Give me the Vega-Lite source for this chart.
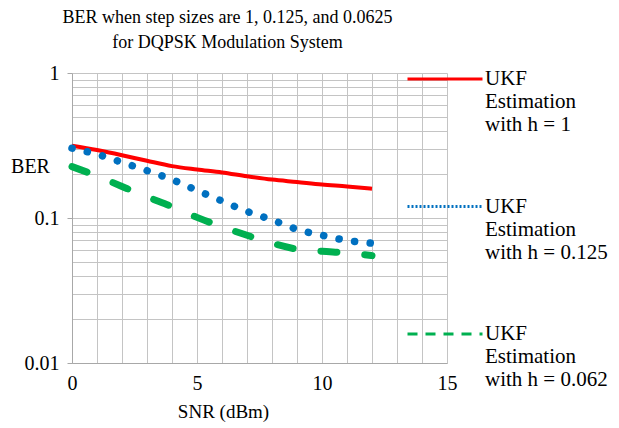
{
  "$schema": "https://vega.github.io/schema/vega-lite/v6.json",
  "width": 375,
  "height": 290,
  "autosize": "none",
  "padding": {"left": 72, "top": 73, "right": 172, "bottom": 65},
  "background": "white",
  "config": {
    "font": "Liberation Serif",
    "view": {"stroke": null},
    "axis": {"labelFont": "Liberation Serif", "titleFont": "Liberation Serif"},
    "legend": {"labelFont": "Liberation Serif", "titleFont": "Liberation Serif"},
    "title": {"font": "Liberation Serif"}
  },
  "title": {
    "text": ["BER when step sizes are 1, 0.125, and 0.0625", "for DQPSK Modulation System"],
    "fontSize": 18, "fontWeight": "normal", "font": "Liberation Serif", "color": "black",
    "lineHeight": 25, "dx": -32, "dy": 22, "offset": 10
  },
  "data": {"values": [
    {"snr": 0, "ber": 0.315, "series": "h1"},
    {"snr": 1, "ber": 0.294, "series": "h1"},
    {"snr": 2, "ber": 0.271, "series": "h1"},
    {"snr": 3, "ber": 0.248, "series": "h1"},
    {"snr": 4, "ber": 0.228, "series": "h1"},
    {"snr": 5, "ber": 0.216, "series": "h1"},
    {"snr": 6, "ber": 0.206, "series": "h1"},
    {"snr": 7, "ber": 0.194, "series": "h1"},
    {"snr": 8, "ber": 0.184, "series": "h1"},
    {"snr": 9, "ber": 0.177, "series": "h1"},
    {"snr": 10, "ber": 0.170, "series": "h1"},
    {"snr": 11, "ber": 0.165, "series": "h1"},
    {"snr": 12, "ber": 0.159, "series": "h1"},
    {"snr": 0, "ber": 0.303, "series": "h0125"},
    {"snr": 1, "ber": 0.275, "series": "h0125"},
    {"snr": 2, "ber": 0.242, "series": "h0125"},
    {"snr": 3, "ber": 0.212, "series": "h0125"},
    {"snr": 4, "ber": 0.184, "series": "h0125"},
    {"snr": 5, "ber": 0.155, "series": "h0125"},
    {"snr": 6, "ber": 0.131, "series": "h0125"},
    {"snr": 7, "ber": 0.111, "series": "h0125"},
    {"snr": 8, "ber": 0.097, "series": "h0125"},
    {"snr": 9, "ber": 0.0835, "series": "h0125"},
    {"snr": 10, "ber": 0.076, "series": "h0125"},
    {"snr": 11, "ber": 0.070, "series": "h0125"},
    {"snr": 12, "ber": 0.067, "series": "h0125"},
    {"snr": 0, "ber": 0.226, "series": "h0625"},
    {"snr": 1, "ber": 0.195, "series": "h0625"},
    {"snr": 2, "ber": 0.165, "series": "h0625"},
    {"snr": 3, "ber": 0.140, "series": "h0625"},
    {"snr": 4, "ber": 0.120, "series": "h0625"},
    {"snr": 5, "ber": 0.101, "series": "h0625"},
    {"snr": 6, "ber": 0.087, "series": "h0625"},
    {"snr": 7, "ber": 0.076, "series": "h0625"},
    {"snr": 8, "ber": 0.067, "series": "h0625"},
    {"snr": 9, "ber": 0.061, "series": "h0625"},
    {"snr": 10, "ber": 0.059, "series": "h0625"},
    {"snr": 11, "ber": 0.0575, "series": "h0625"},
    {"snr": 12, "ber": 0.055, "series": "h0625"}
  ]},
  "encoding": {
    "x": {
      "field": "snr", "type": "quantitative",
      "scale": {"domain": [0, 15], "nice": false},
      "axis": {
        "values": [0,1,2,3,4,5,6,7,8,9,10,11,12,13,14,15],
        "labelExpr": "datum.value % 5 === 0 ? datum.label : ''",
        "ticks": false, "labelPadding": 10, "labelFontSize": 20, "labelColor": "black",
        "labelFont": "Liberation Serif",
        "labelFlush": false, "labelOverlap": false, "labelBound": false,
        "grid": true, "gridColor": "#c4c4c4", "domainColor": "#a8a8a8",
        "title": "SNR (dBm)", "titleFontSize": 19, "titleFontWeight": "normal", "titleColor": "black",
        "titleFont": "Liberation Serif",
        "titleX": 151, "titleY": 48, "titleBaseline": "middle", "titleAlign": "center"
      }
    },
    "y": {
      "field": "ber", "type": "quantitative",
      "scale": {"type": "log", "domain": [0.01, 1], "nice": false},
      "axis": {
        "values": [0.01,0.02,0.03,0.04,0.05,0.06,0.07,0.08,0.09,0.1,0.2,0.3,0.4,0.5,0.6,0.7,0.8,0.9,1],
        "labelExpr": "abs(log(datum.value)/LN10 - round(log(datum.value)/LN10)) < 1e-6 ? format(datum.value, '~g') : ''",
        "labelFontSize": 20, "labelColor": "black", "labelPadding": 8,
        "labelFont": "Liberation Serif",
        "labelFlush": false, "labelOverlap": false, "labelBound": false,
        "tickSize": 5, "tickColor": "#a8a8a8",
        "tickOpacity": {"condition": {"test": "abs(log(datum.value)/LN10 - round(log(datum.value)/LN10)) < 1e-6", "value": 1}, "value": 0},
        "grid": true, "gridColor": "#c4c4c4", "domainColor": "#a8a8a8",
        "title": "BER", "titleAngle": 0, "titleFontSize": 20, "titleFontWeight": "normal", "titleColor": "black",
        "titleFont": "Liberation Serif",
        "titleAlign": "center", "titleBaseline": "middle", "titleX": -42, "titleY": 93
      }
    },
    "color": {
      "field": "series", "type": "nominal",
      "scale": {"domain": ["h1", "h0125", "h0625"], "range": ["#ff0000", "#0070c0", "#00b050"]},
      "legend": {
        "orient": "none", "legendX": 334, "legendY": -33, "title": null,
        "symbolType": "stroke", "symbolSize": 5625, "symbolStrokeWidth": 3,
        "symbolDash": {"expr": "datum.value === 'h1' ? [1, 0] : datum.value === 'h0125' ? [2, 2] : [10, 8]"},
        "labelFontSize": 21, "labelFont": "Liberation Serif", "labelColor": "black", "labelLimit": 300,
        "rowPadding": 32.5, "labelOffset": 1, "labelBaseline": "middle",
        "labelExpr": "datum.value === 'h1' ? ['UKF', 'Estimation', 'with h = 1'] : datum.value === 'h0125' ? ['UKF', 'Estimation', 'with h = 0.125'] : ['UKF', 'Estimation', 'with h = 0.062']"
      }
    }
  },
  "layer": [
    {
      "transform": [{"filter": "datum.series === 'h1'"}],
      "mark": {"type": "line", "strokeWidth": 4, "interpolate": "monotone"}
    },
    {
      "transform": [{"filter": "datum.series === 'h0125'"}],
      "mark": {"type": "line", "strokeWidth": 7.5, "strokeCap": "round", "strokeDash": [0.1, 15.6], "interpolate": "monotone"}
    },
    {
      "transform": [{"filter": "datum.series === 'h0625'"}],
      "mark": {"type": "line", "strokeWidth": 7, "strokeCap": "round", "strokeDash": [16, 28], "interpolate": "monotone"}
    }
  ]
}
